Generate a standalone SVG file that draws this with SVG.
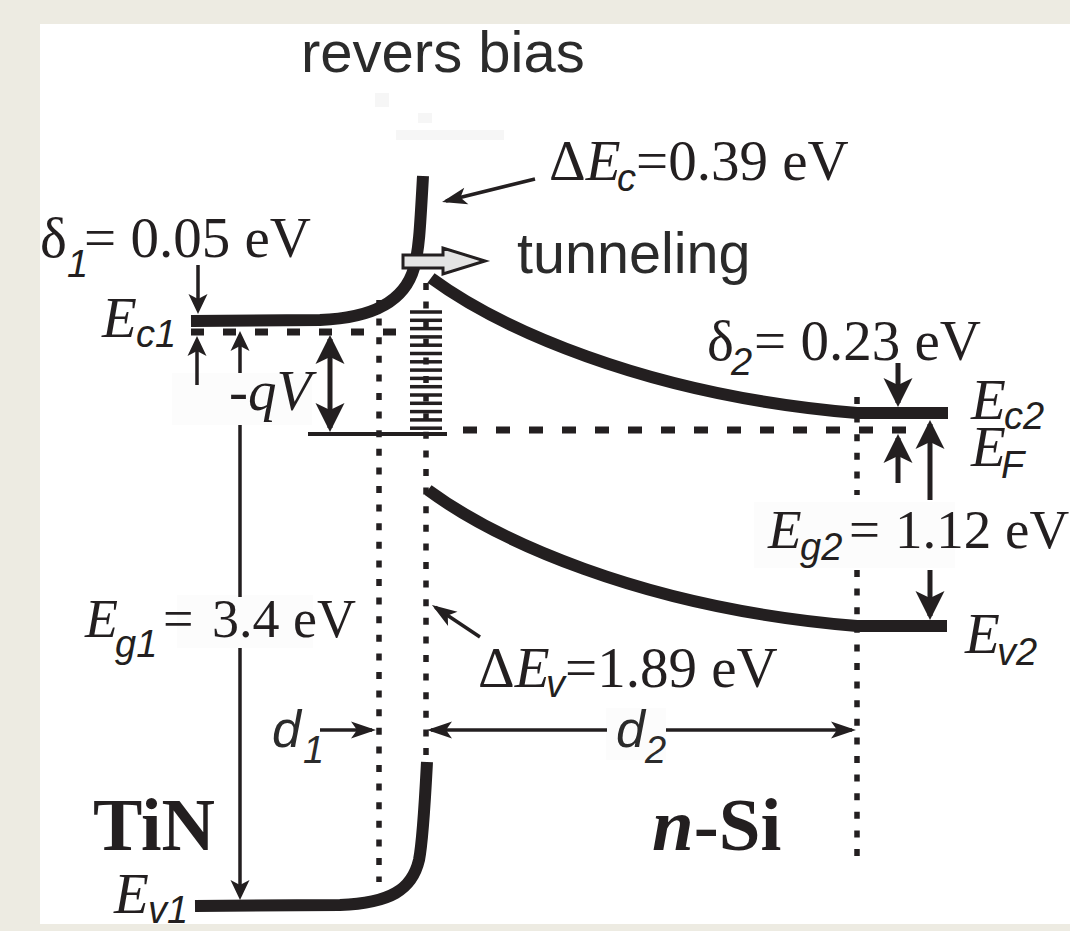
<svg xmlns="http://www.w3.org/2000/svg" width="1070" height="931" viewBox="0 0 1070 931">
<style>
.band{fill:none;stroke:#231f20;stroke-width:12;stroke-linecap:butt}
.dash{fill:none;stroke:#231f20;stroke-width:7;stroke-dasharray:13 19}
.dot{fill:none;stroke:#231f20;stroke-width:5.5;stroke-dasharray:7 11.6}
.thin{fill:none;stroke:#231f20;stroke-width:3.5}
.med{fill:none;stroke:#231f20;stroke-width:5}
.lad{stroke:#231f20;stroke-width:3.5}
.s{font-family:"Liberation Serif","Times New Roman",serif;fill:#231f20}
.a{font-family:"Liberation Sans",Arial,sans-serif;fill:#2b2b2b}
.sub{font-family:"Liberation Sans",Arial,sans-serif;font-style:italic;font-size:38px}
.i{font-style:italic}
.box{fill:#fcfcfc}
.smudge{fill:#f6f6f6}
</style>
<defs>
<marker id="ahS" viewBox="-21 -10 22 20" markerUnits="userSpaceOnUse" markerWidth="22" markerHeight="20" refX="-4" refY="0" orient="auto-start-reverse">
<path d="M0,0 L-20,-9.5 L-15,0 L-20,9.5 Z" fill="#231f20"/>
</marker>
<marker id="ahB" viewBox="-30 -15 31 30" markerUnits="userSpaceOnUse" markerWidth="31" markerHeight="30" refX="-4" refY="0" orient="auto-start-reverse">
<path d="M0,0 L-29,-14.5 L-22,0 L-29,14.5 Z" fill="#231f20"/>
</marker>
<marker id="ahM" viewBox="-26 -10 27 20" markerUnits="userSpaceOnUse" markerWidth="27" markerHeight="20" refX="-4" refY="0" orient="auto-start-reverse">
<path d="M0,0 L-25,-8.5 L-19,0 L-25,8.5 Z" fill="#231f20"/>
</marker>
</defs>

<rect x="0" y="0" width="1070" height="931" fill="#edebe2"/>
<rect x="40" y="24" width="1030" height="900" fill="#ffffff"/>

<g id="smudges">
<rect class="smudge" x="375" y="93" width="14" height="14"/>
<rect class="smudge" x="418" y="113" width="14" height="10"/>
<rect class="smudge" x="396" y="130" width="108" height="10"/>
</g>

<g id="label-boxes">
<rect class="box" x="172" y="373" width="140" height="52"/>
<rect class="box" x="177" y="595" width="136" height="53"/>
<rect class="box" x="754" y="502" width="201" height="66"/>
<rect class="box" x="606" y="708" width="60" height="52"/>
</g>

<g id="guides">
<line class="dot" x1="379" y1="300" x2="379" y2="882"/>
<line class="dot" x1="426" y1="283" x2="426" y2="755"/>
<line class="dot" x1="857" y1="397" x2="857" y2="495"/>
<line class="dot" x1="857" y1="570" x2="857" y2="866"/>
<line class="dash" x1="191" y1="332" x2="400" y2="332"/>
<line class="dash" x1="463" y1="430" x2="906" y2="430" style="stroke-dasharray:14 19"/>
<line class="thin" x1="308" y1="434" x2="447" y2="434" style="stroke-width:4"/>
</g>

<g id="bands">
<path id="Ec1" class="band" d="M191,321 L320,320 C375,318 405,300 414,268 C419,250 420,230 423,176"/>
<path id="Ev1" class="band" d="M195,906 L340,905 C390,903 412,890 419,860 C423,840 425,800 427,762"/>
<path id="Ec2" class="band" d="M431,278 C495,325 640,395 857,413 L948,413"/>
<path id="Ev2" class="band" d="M428,490 C492,537 637,608 857,626 L947,626"/>
</g>

<g id="interface-states">
<line class="lad" x1="410" y1="312" x2="442" y2="312"/>
<line class="lad" x1="410" y1="320.3" x2="442" y2="320.3"/>
<line class="lad" x1="410" y1="328.6" x2="442" y2="328.6"/>
<line class="lad" x1="410" y1="336.9" x2="442" y2="336.9"/>
<line class="lad" x1="410" y1="345.2" x2="442" y2="345.2"/>
<line class="lad" x1="410" y1="353.5" x2="442" y2="353.5"/>
<line class="lad" x1="410" y1="361.8" x2="442" y2="361.8"/>
<line class="lad" x1="410" y1="370.1" x2="442" y2="370.1"/>
<line class="lad" x1="410" y1="378.4" x2="442" y2="378.4"/>
<line class="lad" x1="410" y1="386.7" x2="442" y2="386.7"/>
<line class="lad" x1="410" y1="395" x2="442" y2="395"/>
<line class="lad" x1="410" y1="403.3" x2="442" y2="403.3"/>
<line class="lad" x1="410" y1="411.6" x2="442" y2="411.6"/>
<line class="lad" x1="410" y1="419.9" x2="442" y2="419.9"/>
<line class="lad" x1="410" y1="428.2" x2="442" y2="428.2"/>
</g>

<g id="connectors">
<line class="thin" x1="198" y1="265" x2="198" y2="310" marker-end="url(#ahS)"/>
<line class="thin" x1="197" y1="385" x2="197" y2="340" marker-end="url(#ahS)"/>
<line class="thin" x1="240" y1="373" x2="240" y2="335" marker-end="url(#ahS)"/>
<line class="thin" x1="240" y1="425" x2="240" y2="597"/>
<line class="thin" x1="240" y1="648" x2="240" y2="896" marker-end="url(#ahS)"/>
<line class="med" x1="330" y1="339" x2="330" y2="428" marker-start="url(#ahB)" marker-end="url(#ahB)"/>
<line class="med" x1="898" y1="363" x2="898" y2="403" marker-end="url(#ahB)"/>
<line class="med" x1="898" y1="483" x2="898" y2="438" marker-end="url(#ahB)"/>
<line class="med" x1="930" y1="500" x2="930" y2="424" marker-end="url(#ahB)"/>
<line class="med" x1="930" y1="570" x2="930" y2="616" marker-end="url(#ahB)"/>
<line class="thin" x1="320" y1="730" x2="372" y2="730" marker-end="url(#ahM)"/>
<line class="thin" x1="607" y1="730" x2="431" y2="730" marker-end="url(#ahM)"/>
<line class="thin" x1="666" y1="730" x2="852" y2="730" marker-end="url(#ahM)"/>
<line class="thin" x1="535" y1="179" x2="445.9" y2="201" marker-end="url(#ahM)"/>
<line class="thin" x1="480" y1="637" x2="435.3" y2="607.2" marker-end="url(#ahM)"/>
</g>

<g id="tunneling-arrow">
<path d="M403,255 L443,255 L443,248 L485,261 L443,274 L443,268 L403,268 Z" fill="#e4e4e4" stroke="#231f20" stroke-width="3" stroke-linejoin="miter"/>
</g>

<g id="labels">
<text class="a" x="301" y="72" font-size="58">revers bias</text>
<text class="a" x="517" y="273" font-size="57.5">tunneling</text>
<text class="s" font-size="57"><tspan x="549" y="180">Δ</tspan><tspan class="i">E</tspan><tspan class="sub" x="617" y="191">c</tspan><tspan x="636" y="180">=0.39 eV</tspan></text>
<text class="s" font-size="57"><tspan x="40" y="257">δ</tspan><tspan class="sub" x="67" y="277">1</tspan><tspan x="84" y="257">= 0.05 eV</tspan></text>
<text class="s" font-size="57"><tspan class="i" x="102" y="337">E</tspan><tspan class="sub" x="136" y="347">c1</tspan></text>
<text class="s i" x="229" y="410" font-size="57">-qV</text>
<text class="s" font-size="54"><tspan class="i" x="85" y="637">E</tspan><tspan class="sub" x="115" y="657">g1</tspan><tspan x="163" y="637">=</tspan><tspan x="212" y="637">3.4 eV</tspan></text>
<text class="s" font-size="57"><tspan x="478" y="687">Δ</tspan><tspan class="i">E</tspan><tspan class="sub" x="546" y="697">v</tspan><tspan x="565" y="687">=1.89 eV</tspan></text>
<text class="s" font-size="57"><tspan x="707" y="360">δ</tspan><tspan class="sub" x="731" y="375">2</tspan><tspan x="754" y="360">= 0.23 eV</tspan></text>
<text class="s" font-size="57"><tspan class="i" x="971" y="419">E</tspan><tspan class="sub" x="1004" y="429">c2</tspan></text>
<text class="s" font-size="57"><tspan class="i" x="971" y="466">E</tspan><tspan class="sub" x="1001" y="478">F</tspan></text>
<text class="s" font-size="55"><tspan class="i" x="768" y="548">E</tspan><tspan class="sub" x="800" y="560">g2</tspan><tspan x="849" y="548">=</tspan><tspan x="895" y="548">1.12 eV</tspan></text>
<text class="s" font-size="57"><tspan class="i" x="965" y="653">E</tspan><tspan class="sub" x="997" y="665">v2</tspan></text>
<text class="s" font-size="57"><tspan class="i" x="114" y="913">E</tspan><tspan class="sub" x="148" y="923">v1</tspan></text>
<text class="s" x="93" y="850" font-size="74" font-weight="bold">TiN</text>
<text class="s" x="652" y="850" font-size="75" font-weight="bold"><tspan class="i">n</tspan>-Si</text>
<text class="a i" font-size="52" fill="#231f20"><tspan x="272" y="747">d</tspan><tspan font-size="38" x="303" y="763">1</tspan></text>
<text class="a i" font-size="52" fill="#231f20"><tspan x="616" y="747">d</tspan><tspan font-size="38" x="645" y="763">2</tspan></text>
</g>
</svg>
